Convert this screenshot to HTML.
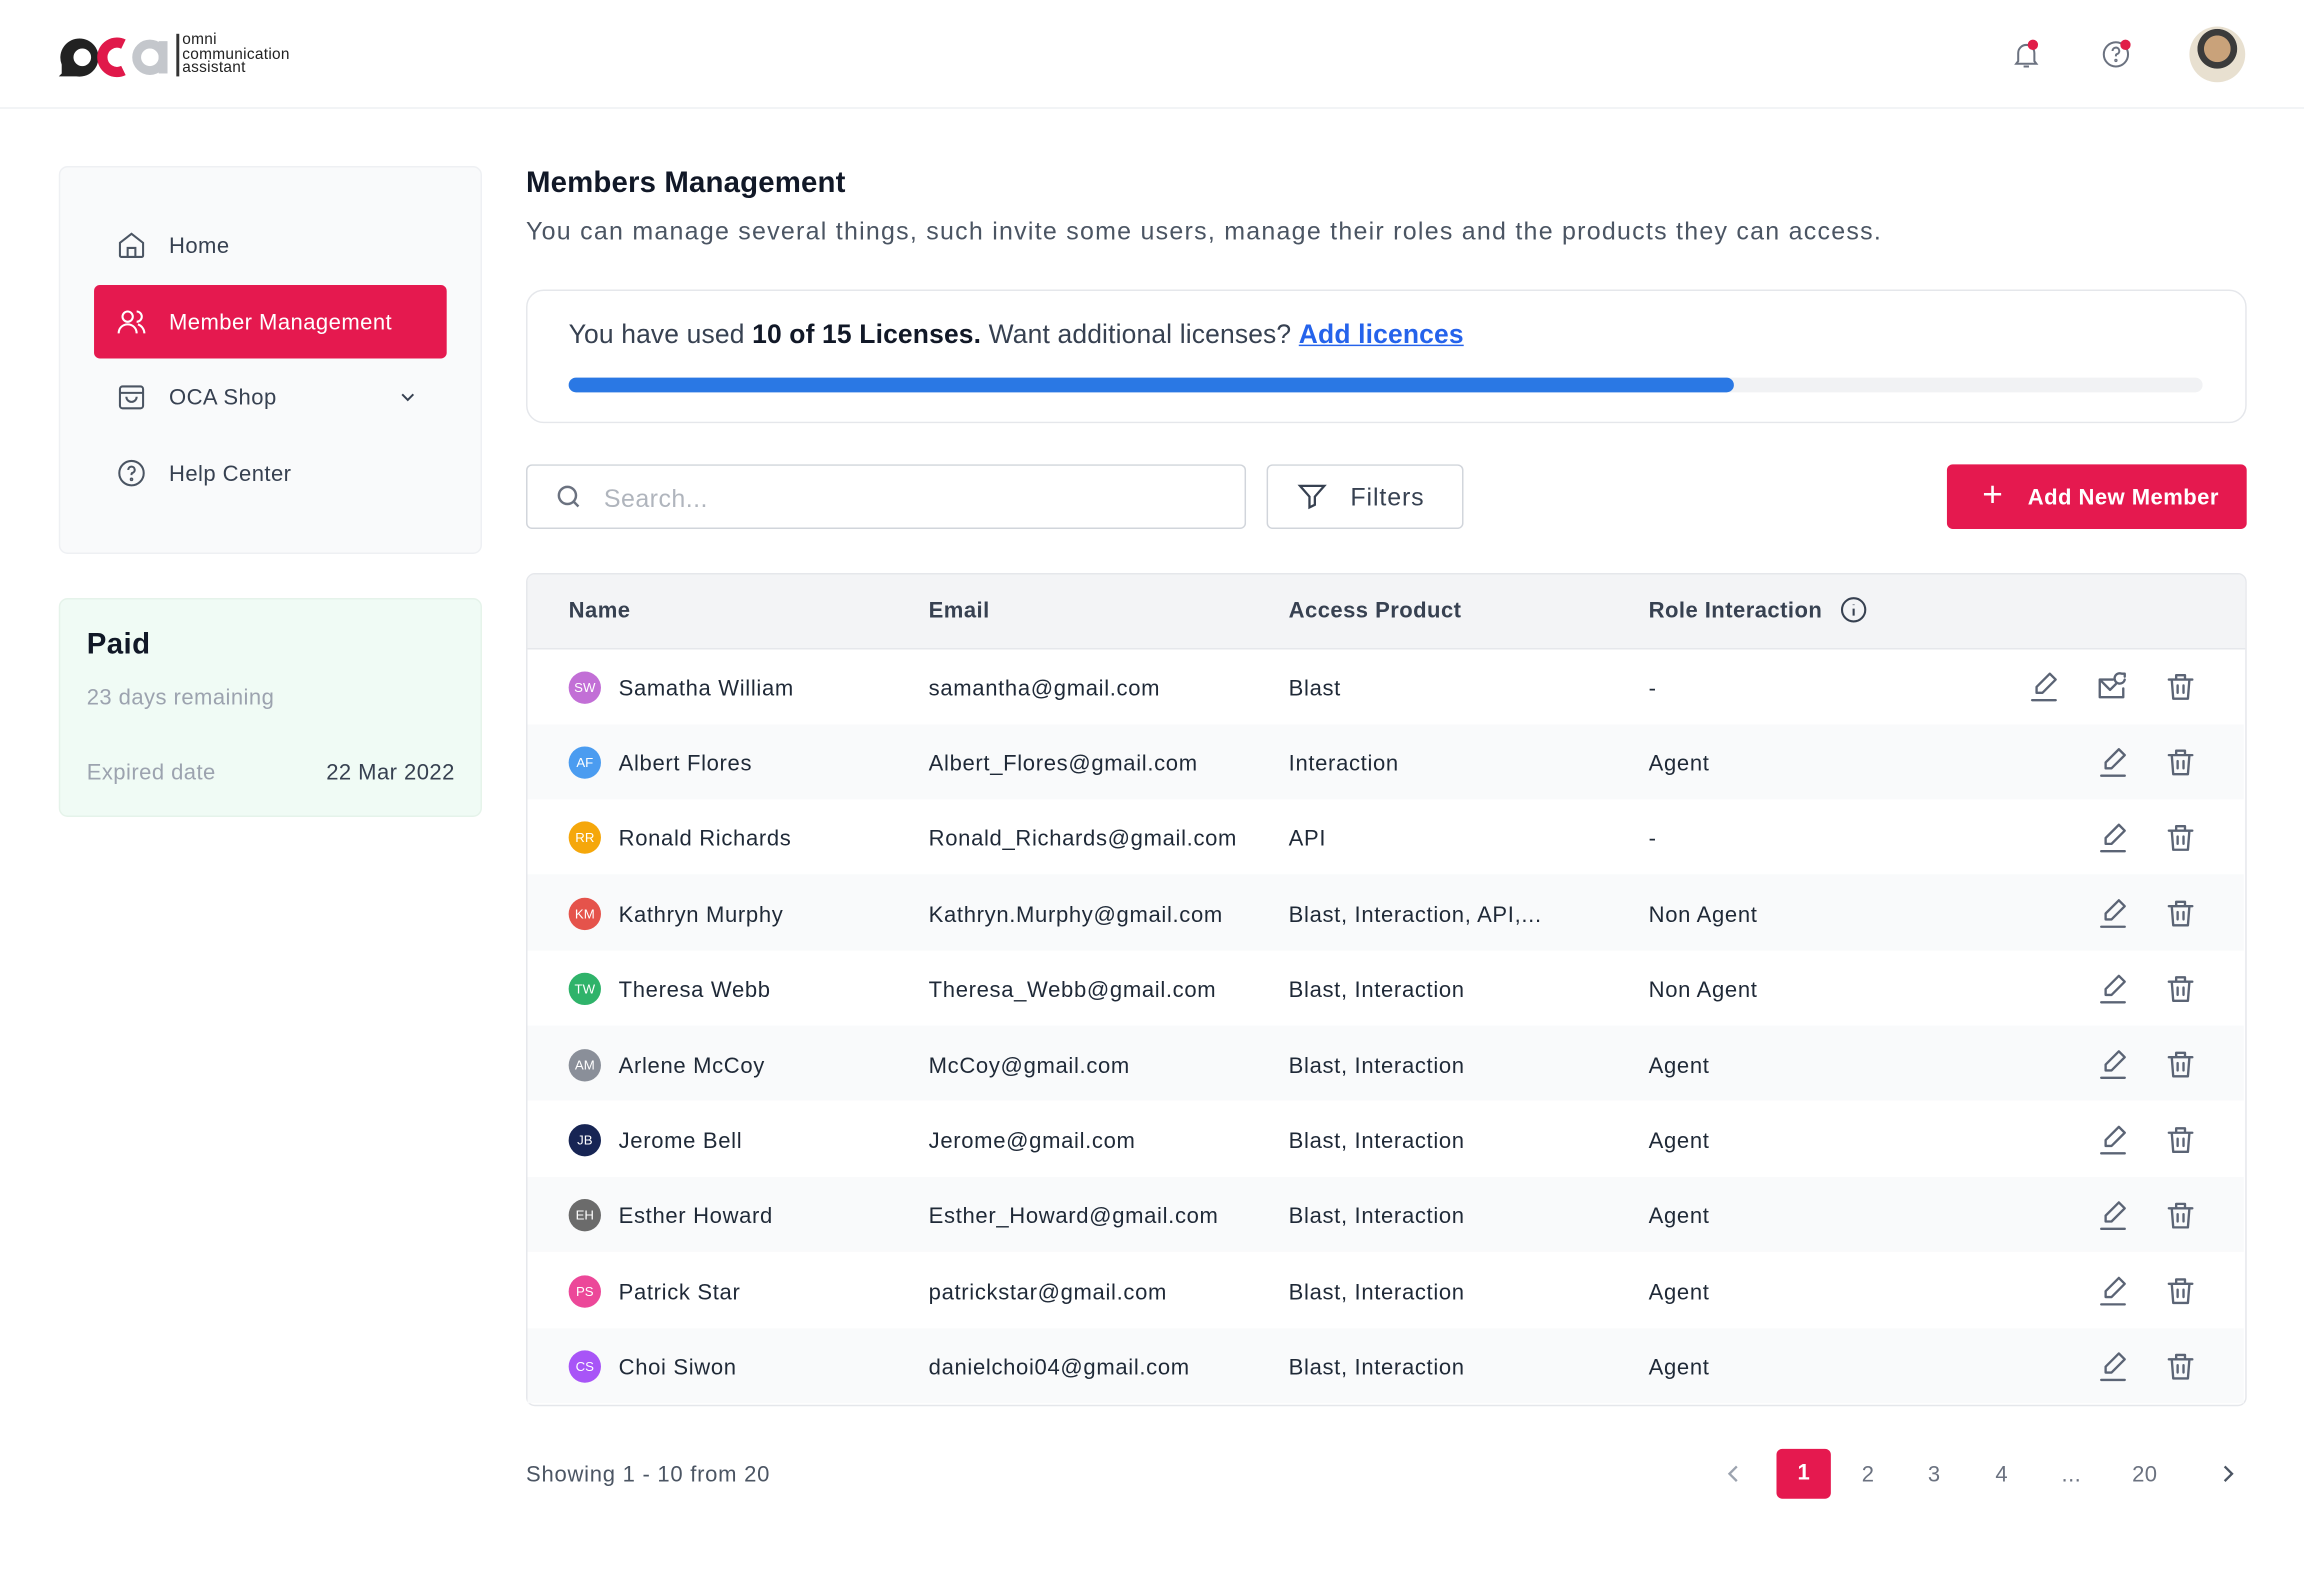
<!DOCTYPE html>
<html><head><meta charset="utf-8"><style>
*{box-sizing:border-box;margin:0;padding:0}
html,body{width:2304px;height:1576px;overflow:hidden;background:#fff}
#w{position:absolute;left:0;top:0;width:1568px;height:1073px;transform:scale(1.469388);transform-origin:0 0;font-family:"Liberation Sans",sans-serif;color:#1f2937}
.a{position:absolute}
.t{position:absolute;white-space:nowrap;transform:translateY(-45%);letter-spacing:.3px}
.row{position:absolute;left:359px;width:1168px;height:51.4px}
.av{position:absolute;width:22px;height:22px;border-radius:50%;color:#fff;font-size:9px;text-align:center;line-height:22px;transform:translateY(-50%)}
.ic{position:absolute;transform:translateY(-50%)}
.c{font-size:15px;color:#1f2937;letter-spacing:.45px}
</style></head><body><div id="w">
<!-- header -->
<div class="a" style="left:0;top:0;width:1568px;height:74px;border-bottom:1px solid #eef0f3"></div>
<svg class="a" style="left:38px;top:20px" width="82" height="34" viewBox="0 0 82 34">
<path d="M4 30 L2 32 L14 32 A13 13 0 1 0 4 24 Z" fill="#222"/><circle cx="18" cy="19" r="6" fill="#fff"/>
<path d="M46 10 A10 10 0 1 0 46 28" stroke="#e0194a" stroke-width="7" fill="none"/>
<circle cx="64" cy="19" r="9" stroke="#c4c7cc" stroke-width="6" fill="none"/><rect x="70" y="8" width="6" height="22" fill="#c4c7cc"/>
</svg>
<div class="a" style="left:120px;top:23px;width:1.5px;height:29px;background:#333"></div>
<div class="a" style="left:124px;top:23px;font-size:10.5px;line-height:9.5px;color:#222;letter-spacing:.2px">omni<br>communication<br>assistant</div>
<svg class="a" style="left:1368px;top:26px" width="22" height="22" viewBox="0 0 24 24" fill="none" stroke="#6b7280" stroke-width="1.5"><path d="M6 17V11a6 6 0 0 1 12 0v6l1.5 2h-15z"/><path d="M10 21h4"/></svg>
<div class="a" style="left:1380px;top:27px;width:7px;height:7px;border-radius:50%;background:#e11d48"></div>
<svg class="a" style="left:1429px;top:26px" width="22" height="22" viewBox="0 0 24 24" fill="none" stroke="#6b7280" stroke-width="1.5"><circle cx="12" cy="12" r="9"/><path d="M9.5 9.5a2.5 2.5 0 1 1 3 2.4c-.5.2-.5.6-.5 1.6"/><circle cx="12" cy="16.5" r=".5"/></svg>
<div class="a" style="left:1443px;top:27px;width:7px;height:7px;border-radius:50%;background:#e11d48"></div>
<div class="a" style="left:1490px;top:18px;width:38px;height:38px;border-radius:50%;background:radial-gradient(circle at 50% 40%,#c9a27a 0 30%,#3b3b3b 31% 45%,#e8e0d0 46%)"></div>
<!-- sidebar -->
<div class="a" style="left:40px;top:113px;width:288px;height:264px;background:#f9fafb;border:1px solid #eef0f3;border-radius:6px"></div>
<svg class="ic" style="left:79px;top:167px" width="21" height="21" viewBox="0 0 24 24" fill="none" stroke="#4b5563" stroke-width="1.6"><path d="M3 10l9-7 9 7v10a1 1 0 0 1-1 1H4a1 1 0 0 1-1-1z"/><path d="M9 21v-7h6v7"/></svg>
<div class="t" style="left:115px;top:167px;font-size:15px;color:#374151">Home</div>
<div class="a" style="left:64px;top:194px;width:240px;height:50px;background:#e5194f;border-radius:4px"></div>
<svg class="ic" style="left:79px;top:219px" width="21" height="21" viewBox="0 0 24 24" fill="none" stroke="#fff" stroke-width="1.6"><circle cx="9" cy="8" r="4"/><path d="M2 21c0-4 3-7 7-7s7 3 7 7"/><path d="M16 4a4 4 0 0 1 0 8M22 21c0-3-2-6-5-7"/></svg>
<div class="t" style="left:115px;top:219px;font-size:15px;color:#fff">Member Management</div>
<svg class="ic" style="left:79px;top:270px" width="21" height="21" viewBox="0 0 24 24" fill="none" stroke="#4b5563" stroke-width="1.6"><rect x="3" y="4" width="18" height="17" rx="2"/><path d="M3 9h18M8 12a4 4 0 0 0 8 0"/></svg>
<div class="t" style="left:115px;top:270px;font-size:15px;color:#374151">OCA Shop</div>
<svg class="ic" style="left:271px;top:270px" width="13" height="13" viewBox="0 0 24 24" fill="none" stroke="#374151" stroke-width="2.5"><path d="M5 9l7 7 7-7"/></svg>
<svg class="ic" style="left:79px;top:322px" width="21" height="21" viewBox="0 0 24 24" fill="none" stroke="#4b5563" stroke-width="1.6"><circle cx="12" cy="12" r="9.5"/><path d="M9.5 9.5a2.5 2.5 0 1 1 3 2.4c-.5.2-.5.6-.5 1.6"/><circle cx="12" cy="16.8" r=".6"/></svg>
<div class="t" style="left:115px;top:322px;font-size:15px;color:#374151">Help Center</div>
<div class="a" style="left:40px;top:407px;width:288px;height:149px;background:#f0fbf5;border:1px solid #e5f3ea;border-radius:6px"></div>
<div class="t" style="left:59px;top:438px;font-size:20px;font-weight:bold;color:#111827">Paid</div>
<div class="t" style="left:59px;top:474px;font-size:15px;color:#9ca3af">23 days remaining</div>
<div class="t" style="left:59px;top:525px;font-size:15px;color:#9ca3af">Expired date</div>
<div class="t" style="left:222px;top:525px;font-size:15px;color:#374151">22 Mar 2022</div>
<!-- main -->
<div class="t" style="left:358px;top:124px;font-size:20px;font-weight:bold;color:#111827;letter-spacing:.1px">Members Management</div>
<div class="t" style="left:358px;top:157px;font-size:17px;color:#4b5563;letter-spacing:.85px">You can manage several things, such invite some users, manage their roles and the products they can access.</div>
<div class="a" style="left:358px;top:197px;width:1171px;height:91px;border:1px solid #e5e7eb;border-radius:12px"></div>
<div class="t" style="left:387px;top:227px;font-size:18px;color:#374151;letter-spacing:.1px">You have used <b style="color:#111827">10 of 15 Licenses.</b> Want additional licenses? <span style="color:#2563eb;text-decoration:underline;font-weight:bold">Add licences</span></div>
<div class="a" style="left:387px;top:257px;width:1112px;height:10px;border-radius:5px;background:#f1f2f4"></div>
<div class="a" style="left:387px;top:257px;width:793px;height:10px;border-radius:5px;background:#2a78e4"></div>
<div class="a" style="left:358px;top:316px;width:490px;height:44px;border:1px solid #d1d5db;border-radius:4px"></div>
<svg class="ic" style="left:377px;top:338px" width="20" height="20" viewBox="0 0 24 24" fill="none" stroke="#6b7280" stroke-width="2"><circle cx="11" cy="11" r="7"/><path d="M20 20l-4-4"/></svg>
<div class="t" style="left:411px;top:339px;font-size:17px;color:#b0b5bd">Search...</div>
<div class="a" style="left:862px;top:316px;width:134px;height:44px;border:1px solid #d1d5db;border-radius:4px"></div>
<svg class="ic" style="left:882px;top:338px" width="22" height="22" viewBox="0 0 24 24" fill="none" stroke="#374151" stroke-width="1.7"><path d="M3 4h18l-7 8v6l-4 2v-8z"/></svg>
<div class="t" style="left:919px;top:338px;font-size:17px;color:#374151;letter-spacing:.6px">Filters</div>
<div class="a" style="left:1325px;top:316px;width:204px;height:44px;background:#e5194f;border-radius:4px"></div>
<div class="t" style="left:1349px;top:336px;font-size:24px;color:#fff;font-weight:300">+</div>
<div class="t" style="left:1380px;top:338px;font-size:15px;color:#fff;font-weight:bold">Add New Member</div>
<!-- table -->
<div class="a" style="left:358px;top:390px;width:1171px;height:567px;border:1px solid #e5e7eb;border-radius:6px;overflow:hidden">
<div class="a" style="left:0;top:0;width:1171px;height:51px;background:#f3f4f6;border-bottom:1px solid #e5e7eb"></div>
</div>
<div class="t" style="left:387px;top:415px;font-size:15px;font-weight:bold;color:#374151">Name</div>
<div class="t" style="left:632px;top:415px;font-size:15px;font-weight:bold;color:#374151">Email</div>
<div class="t" style="left:877px;top:415px;font-size:15px;font-weight:bold;color:#374151">Access Product</div>
<div class="t" style="left:1122px;top:415px;font-size:15px;font-weight:bold;color:#374151">Role Interaction</div>
<svg class="ic" style="left:1252px;top:415px" width="19" height="19" viewBox="0 0 24 24" fill="none" stroke="#374151" stroke-width="1.8"><circle cx="12" cy="12" r="10"/><path d="M12 11v6M12 7.5v.5"/></svg>

<div class="row" style="top:492.5px;background:#f9fafb"></div>
<div class="row" style="top:595.3px;background:#f9fafb"></div>
<div class="row" style="top:698.1px;background:#f9fafb"></div>
<div class="row" style="top:800.9px;background:#f9fafb"></div>
<div class="row" style="top:903.7px;background:#f9fafb;height:51px"></div>

<div class="av" style="left:387px;top:467.5px;background:#c26fd6">SW</div><div class="t c" style="left:421px;top:467.5px">Samatha William</div><div class="t c" style="left:632px;top:467.5px">samantha@gmail.com</div><div class="t c" style="left:877px;top:467.5px">Blast</div><div class="t c" style="left:1122px;top:467.5px">-</div>
<div class="av" style="left:387px;top:518.9px;background:#4b9cf0">AF</div><div class="t c" style="left:421px;top:518.9px">Albert Flores</div><div class="t c" style="left:632px;top:518.9px">Albert_Flores@gmail.com</div><div class="t c" style="left:877px;top:518.9px">Interaction</div><div class="t c" style="left:1122px;top:518.9px">Agent</div>
<div class="av" style="left:387px;top:570.3px;background:#f5a70b">RR</div><div class="t c" style="left:421px;top:570.3px">Ronald Richards</div><div class="t c" style="left:632px;top:570.3px">Ronald_Richards@gmail.com</div><div class="t c" style="left:877px;top:570.3px">API</div><div class="t c" style="left:1122px;top:570.3px">-</div>
<div class="av" style="left:387px;top:621.7px;background:#e5534b">KM</div><div class="t c" style="left:421px;top:621.7px">Kathryn Murphy</div><div class="t c" style="left:632px;top:621.7px">Kathryn.Murphy@gmail.com</div><div class="t c" style="left:877px;top:621.7px">Blast, Interaction, API,...</div><div class="t c" style="left:1122px;top:621.7px">Non Agent</div>
<div class="av" style="left:387px;top:673.1px;background:#2fb36a">TW</div><div class="t c" style="left:421px;top:673.1px">Theresa Webb</div><div class="t c" style="left:632px;top:673.1px">Theresa_Webb@gmail.com</div><div class="t c" style="left:877px;top:673.1px">Blast, Interaction</div><div class="t c" style="left:1122px;top:673.1px">Non Agent</div>
<div class="av" style="left:387px;top:724.5px;background:#8a8f99">AM</div><div class="t c" style="left:421px;top:724.5px">Arlene McCoy</div><div class="t c" style="left:632px;top:724.5px">McCoy@gmail.com</div><div class="t c" style="left:877px;top:724.5px">Blast, Interaction</div><div class="t c" style="left:1122px;top:724.5px">Agent</div>
<div class="av" style="left:387px;top:775.9px;background:#172554">JB</div><div class="t c" style="left:421px;top:775.9px">Jerome Bell</div><div class="t c" style="left:632px;top:775.9px">Jerome@gmail.com</div><div class="t c" style="left:877px;top:775.9px">Blast, Interaction</div><div class="t c" style="left:1122px;top:775.9px">Agent</div>
<div class="av" style="left:387px;top:827.3px;background:#6b6b6b">EH</div><div class="t c" style="left:421px;top:827.3px">Esther Howard</div><div class="t c" style="left:632px;top:827.3px">Esther_Howard@gmail.com</div><div class="t c" style="left:877px;top:827.3px">Blast, Interaction</div><div class="t c" style="left:1122px;top:827.3px">Agent</div>
<div class="av" style="left:387px;top:878.7px;background:#ec4899">PS</div><div class="t c" style="left:421px;top:878.7px">Patrick Star</div><div class="t c" style="left:632px;top:878.7px">patrickstar@gmail.com</div><div class="t c" style="left:877px;top:878.7px">Blast, Interaction</div><div class="t c" style="left:1122px;top:878.7px">Agent</div>
<div class="av" style="left:387px;top:930.1px;background:#a855f7">CS</div><div class="t c" style="left:421px;top:930.1px">Choi Siwon</div><div class="t c" style="left:632px;top:930.1px">danielchoi04@gmail.com</div><div class="t c" style="left:877px;top:930.1px">Blast, Interaction</div><div class="t c" style="left:1122px;top:930.1px">Agent</div>

<svg class="a" style="left:0;top:0" width="1568" height="1073">
<defs>
<g id="ed" fill="none" stroke="#5b6475" stroke-width="1.6" stroke-linecap="round" stroke-linejoin="round"><path d="M-5 4 L-5 0 L4 -9 L8 -5 L-1 4 Z"/><path d="M-8 9 H8"/></g>
<g id="tr" fill="none" stroke="#5b6475" stroke-width="1.6" stroke-linecap="round" stroke-linejoin="round"><path d="M-8 -5 H8 M-3 -5 V-8 H3 V-5 M-6 -5 L-5 8 H5 L6 -5 M-2 -1 V4 M2 -1 V4"/></g>
<g id="ml" fill="none" stroke="#5b6475" stroke-width="1.6" stroke-linecap="round" stroke-linejoin="round"><path d="M1 -5 H-8 V7 H8 V1 M-8 -5 L-1 2 L3 -2"/><path d="M9 -5 A3.5 3.5 0 1 1 7 -9 M7 -9 H9 V-7"/></g>
</defs>
<use href="#ed" x="1391" y="467.5"/><use href="#ml" x="1437" y="467.5"/><use href="#tr" x="1484" y="467.5"/>
<use href="#ed" x="1438" y="518.9"/><use href="#tr" x="1484" y="518.9"/>
<use href="#ed" x="1438" y="570.3"/><use href="#tr" x="1484" y="570.3"/>
<use href="#ed" x="1438" y="621.7"/><use href="#tr" x="1484" y="621.7"/>
<use href="#ed" x="1438" y="673.1"/><use href="#tr" x="1484" y="673.1"/>
<use href="#ed" x="1438" y="724.5"/><use href="#tr" x="1484" y="724.5"/>
<use href="#ed" x="1438" y="775.9"/><use href="#tr" x="1484" y="775.9"/>
<use href="#ed" x="1438" y="827.3"/><use href="#tr" x="1484" y="827.3"/>
<use href="#ed" x="1438" y="878.7"/><use href="#tr" x="1484" y="878.7"/>
<use href="#ed" x="1438" y="930.1"/><use href="#tr" x="1484" y="930.1"/>
<path d="M1182 998 L1177 1003 L1182 1008" fill="none" stroke="#9ca3af" stroke-width="1.6"/>
<path d="M1514 998 L1519 1003 L1514 1008" fill="none" stroke="#4b5563" stroke-width="1.6"/>
</svg>
<!-- footer -->
<div class="t" style="left:358px;top:1003px;font-size:15px;color:#4b5563;letter-spacing:.5px">Showing 1 - 10 from 20</div>
<div class="a" style="left:1209px;top:986px;width:37px;height:34px;background:#e5194f;border-radius:4px;color:#fff;font-size:15px;font-weight:bold;text-align:center;line-height:34px">1</div>
<div class="t" style="left:1267px;top:1003px;font-size:15px;color:#6b7280">2</div>
<div class="t" style="left:1312px;top:1003px;font-size:15px;color:#6b7280">3</div>
<div class="t" style="left:1358px;top:1003px;font-size:15px;color:#6b7280">4</div>
<div class="t" style="left:1403px;top:1003px;font-size:15px;color:#6b7280">...</div>
<div class="t" style="left:1451px;top:1003px;font-size:15px;color:#6b7280">20</div>
</div></body></html>
